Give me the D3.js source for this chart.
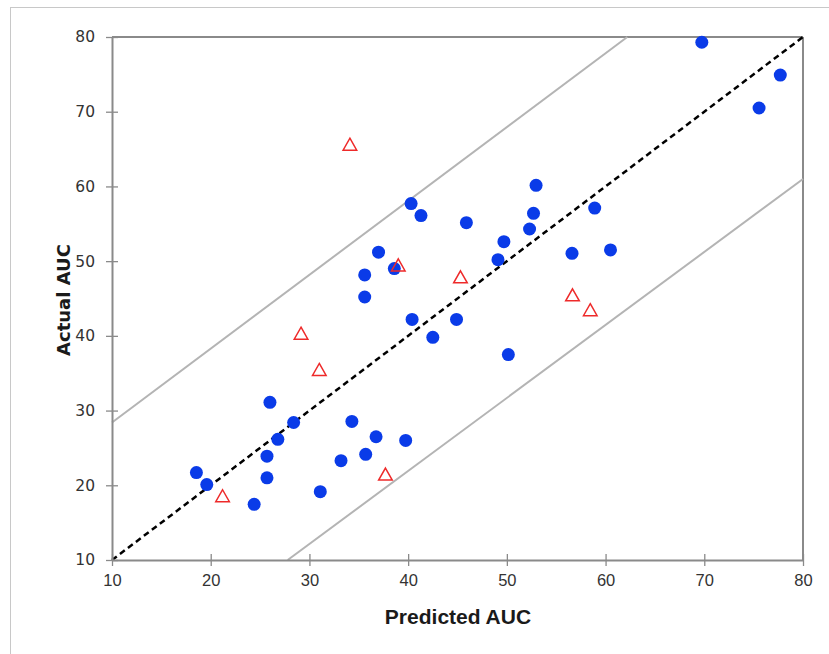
<!DOCTYPE html>
<html>
<head>
<meta charset="utf-8">
<script src="https://cdn.jsdelivr.net/npm/d3@7"></script>
<style>
html,body{margin:0;padding:0;background:#fff;}
svg{display:block;}
</style>
</head>
<body>
<svg id="chart" width="829" height="654"></svg>
<script>
// ---- data ----
const trainX = [69.75,77.7,75.55,58.9,40.3,41.3,45.9,52.96,52.7,52.3,49.7,49.1,56.6,60.5,37.0,38.6,35.6,35.6,40.4,44.9,42.5,50.15,26.0,28.4,26.8,25.7,25.7,18.55,19.6,24.4,31.1,33.2,34.3,36.75,39.75,35.7];
const trainY = [79.3,74.9,70.5,57.1,57.7,56.1,55.15,60.15,56.4,54.3,52.6,50.2,51.05,51.5,51.2,49.0,48.15,45.2,42.2,42.2,39.8,37.5,31.1,28.4,26.15,23.9,21.0,21.7,20.1,17.45,19.15,23.3,28.55,26.5,26.0,24.15];
const testX = [34.1,39.0,45.3,56.65,58.45,29.15,31.0,21.2,37.7];
const testY = [65.65,49.5,47.9,45.5,43.5,40.35,35.5,18.6,21.5];
const identityLine = [[10,10],[80,80]];
const upperBand = [[10,28.4],[62.2,80]];
const lowerBand = [[27.8,10],[80,61]];
const xTicks = [10,20,30,40,50,60,70,80];
const yTicks = [10,20,30,40,50,60,70,80];
const xTitle = "Predicted AUC";
const yTitle = "Actual AUC";

// ---- layout ----
const svg = d3.select("#chart");
const L = 112, R = 803, T = 37, B = 560;
const x = d3.scaleLinear().domain([10,80]).range([L,R]);
const y = d3.scaleLinear().domain([10,80]).range([B,T]);

// outer frame
svg.append("rect").attr("x",10.5).attr("y",7.5).attr("width",900).attr("height",800)
  .attr("fill","none").attr("stroke","#c8c8c8").attr("stroke-width",1);

const axisColor = "#8a8a8a";

// top & right borders
svg.append("line").attr("x1",L).attr("x2",R).attr("y1",T).attr("y2",T)
  .attr("stroke",axisColor).attr("stroke-width",2);
svg.append("line").attr("x1",R).attr("x2",R).attr("y1",T).attr("y2",B)
  .attr("stroke",axisColor).attr("stroke-width",2);

// band lines
const line = d3.line().x(d=>x(d[0])).y(d=>y(d[1]));
[upperBand, lowerBand].forEach(b=>{
  svg.append("path").attr("d",line(b)).attr("fill","none")
    .attr("stroke","#b4b4b4").attr("stroke-width",2);
});
// identity
svg.append("path").attr("d",line(identityLine)).attr("fill","none")
  .attr("stroke","#000").attr("stroke-width",2.5).attr("stroke-dasharray","6,4");

// axes
const xAxis = d3.axisBottom(x).tickValues(xTicks).tickSize(6).tickSizeOuter(0).tickPadding(10);
const gx = svg.append("g").attr("transform",`translate(0,${B})`).call(xAxis);
gx.select(".domain").attr("stroke",axisColor).attr("stroke-width",2);
gx.selectAll(".tick line").attr("stroke",axisColor).attr("stroke-width",1.3).attr("y1",-6).attr("y2",6);
gx.selectAll(".tick text").attr("fill","#333").attr("font-family","'Liberation Sans Narrow','Liberation Sans',Arial,sans-serif")
  .attr("font-size",16.5).attr("dy","0.71em").attr("y",14);

const yAxis = d3.axisLeft(y).tickValues(yTicks).tickSize(6).tickSizeOuter(0).tickPadding(10);
const gy = svg.append("g").attr("transform",`translate(${L},0)`).call(yAxis);
gy.select(".domain").attr("stroke",axisColor).attr("stroke-width",2);
gy.selectAll(".tick line").attr("stroke",axisColor).attr("stroke-width",1.3).attr("x1",-6).attr("x2",6);
gy.selectAll(".tick text").attr("fill","#333").attr("font-family","'DejaVu Sans',Verdana,sans-serif")
  .attr("font-size",15.5).attr("x",-17);

// points
const train = trainX.map((v,i)=>[v,trainY[i]]);
svg.append("g").selectAll("circle").data(train).join("circle")
  .attr("cx",d=>x(d[0])).attr("cy",d=>y(d[1])).attr("r",6.5).attr("fill","#0a3be8");

const test = testX.map((v,i)=>[v,testY[i]]);
const tri = "M0,-6L6.8,6L-6.8,6Z";
svg.append("g").selectAll("path").data(test).join("path")
  .attr("transform",d=>`translate(${x(d[0])},${y(d[1])})`)
  .attr("d",tri).attr("fill","none").attr("stroke","#ee2a2a").attr("stroke-width",1.5);

// titles
svg.append("text").attr("x",458).attr("y",624).attr("text-anchor","middle")
  .attr("font-family","'Liberation Sans',Arial,sans-serif").attr("font-weight","bold")
  .attr("font-size",21).attr("fill","#1a1a1a").text(xTitle);
svg.append("text").attr("transform",`translate(70,${300}) rotate(-90)`).attr("text-anchor","middle")
  .attr("font-family","'DejaVu Sans',Verdana,sans-serif").attr("font-weight","bold")
  .attr("font-size",18).attr("fill","#1a1a1a").text(yTitle);
</script>
</body>
</html>
